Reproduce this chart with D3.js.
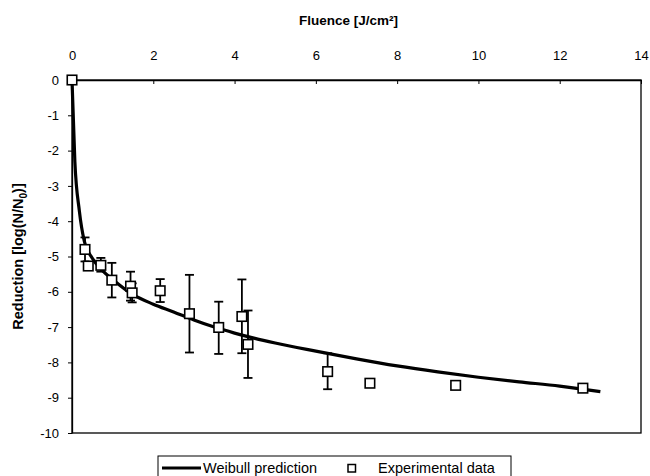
<!DOCTYPE html>
<html>
<head>
<meta charset="utf-8">
<script src="https://cdn.jsdelivr.net/npm/d3@7"></script>
<style>
  html, body { margin: 0; padding: 0; background: #fff; }
  svg { display: block; }
  text { font-family: "Liberation Sans", Arial, sans-serif; fill: #000; }
</style>
</head>
<body>
<svg id="chart" width="650" height="476"></svg>
<script>
// ---- Data ----
const fluence   = [0, 0.32, 0.40, 0.71, 0.98, 1.44, 1.48, 2.17, 2.89, 3.61, 4.18, 4.33, 6.29, 7.33, 9.44, 12.57];
const reduction = [0, -4.80, -5.27, -5.25, -5.67, -5.84, -6.03, -5.97, -6.62, -7.01, -6.70, -7.49, -8.26, -8.59, -8.65, -8.73];
const errHigh   = [null, -4.46, null, -5.04, -5.18, -5.43, -5.76, -5.64, -5.52, -6.28, -5.65, -6.53, -7.74, null, null, null];
const errLow    = [null, -5.14, null, -5.43, -6.16, -6.25, -6.30, -6.29, -7.72, -7.76, -7.74, -8.44, -8.76, null, null, null];

const weibullX = [0, 0.07, 0.18, 0.3, 0.5, 0.75, 1.0, 1.5, 2.0, 2.5, 3.0, 3.5, 4.0, 4.5, 5.0, 6.0, 7.0, 8.0, 9.0, 10.0, 11.0, 12.0, 13.0];
const weibullY = [0, -2.3, -3.7, -4.55, -5.05, -5.4, -5.65, -6.08, -6.35, -6.57, -6.8, -7.0, -7.17, -7.32, -7.45, -7.68, -7.9, -8.1, -8.27, -8.42, -8.55, -8.67, -8.83];

const xTicks = [0, 2, 4, 6, 8, 10, 12, 14];
const yTicks = [0, -1, -2, -3, -4, -5, -6, -7, -8, -9, -10];

const xTitle = "Fluence [J/cm²]";
const legendLabels = ["Weibull prediction", "Experimental data"];

// ---- Layout ----
const L = 72, R = 641, T = 80, B = 433;
const svg = d3.select("#chart");
const x = d3.scaleLinear().domain([0, 14]).range([L, R]);
const y = d3.scaleLinear().domain([0, -10]).range([T, B]);

// Plot frame
svg.append("rect")
  .attr("x", L).attr("y", T).attr("width", R - L).attr("height", B - T)
  .attr("fill", "none").attr("stroke", "#000").attr("stroke-width", 1.3);

// Top x axis
const gx = svg.append("g").attr("transform", `translate(0,${T})`)
  .call(d3.axisTop(x).tickValues(xTicks).tickSizeInner(-4).tickSizeOuter(0).tickPadding(20).tickFormat(d3.format("d")));
gx.select(".domain").attr("stroke", "#000").attr("stroke-width", 1.3);
gx.selectAll(".tick line").attr("stroke", "#000").attr("stroke-width", 1);
gx.selectAll(".tick text").attr("font-size", 13).attr("font-family", "Liberation Sans, Arial, sans-serif").attr("fill", "#000");

// Left y axis
const gy = svg.append("g").attr("transform", `translate(${L},0)`)
  .call(d3.axisLeft(y).tickValues(yTicks).tickSizeInner(4).tickSizeOuter(0).tickPadding(9).tickFormat(d => d3.format("d")(d).replace("−", "-")));
gy.select(".domain").attr("stroke", "#000").attr("stroke-width", 1.3);
gy.selectAll(".tick line").attr("stroke", "#000").attr("stroke-width", 1);
gy.selectAll(".tick text").attr("font-size", 13).attr("font-family", "Liberation Sans, Arial, sans-serif").attr("fill", "#000");

// Axis titles
svg.append("text")
  .attr("x", (L + R) / 2 - 8).attr("y", 25)
  .attr("text-anchor", "middle").attr("font-size", 13.5).attr("font-weight", "bold")
  .text(xTitle);

const yt = svg.append("text")
  .attr("transform", `translate(23,${(T + B) / 2}) rotate(-90)`)
  .attr("text-anchor", "middle").attr("font-size", 14.5).attr("font-weight", "bold");
yt.append("tspan").text("Reduction [log(N/N");
yt.append("tspan").attr("font-size", 10).attr("dy", 4).text("0");
yt.append("tspan").attr("dy", -4).text(")]");

// Data table
const pts = fluence.map((f, i) => ({ x: f, y: reduction[i], hi: errHigh[i], lo: errLow[i] }));
const curve = weibullX.map((v, i) => ({ x: v, y: weibullY[i] }));

// Error bars
const cap = 4.5;
const eb = svg.append("g").attr("stroke", "#000").attr("stroke-width", 1.8).attr("fill", "none");
pts.filter(d => d.hi !== null && d.lo !== null).forEach(d => {
  const cx = x(d.x);
  eb.append("line").attr("x1", cx).attr("x2", cx).attr("y1", y(d.hi)).attr("y2", y(d.lo));
  eb.append("line").attr("x1", cx - cap).attr("x2", cx + cap).attr("y1", y(d.hi)).attr("y2", y(d.hi));
  eb.append("line").attr("x1", cx - cap).attr("x2", cx + cap).attr("y1", y(d.lo)).attr("y2", y(d.lo));
});

// Weibull curve
svg.append("path")
  .datum(curve)
  .attr("fill", "none").attr("stroke", "#000").attr("stroke-width", 3.2)
  .attr("stroke-linejoin", "round")
  .attr("d", d3.line().x(d => x(d.x)).y(d => y(d.y)).curve(d3.curveMonotoneX));

// Markers
const ms = 9.5;
svg.append("g").selectAll("rect").data(pts).join("rect")
  .attr("x", d => x(d.x) - ms / 2).attr("y", d => y(d.y) - ms / 2)
  .attr("width", ms).attr("height", ms)
  .attr("fill", "#fff").attr("stroke", "#000").attr("stroke-width", 1.6);

// Legend
const lg = svg.append("g");
lg.append("rect").attr("x", 158).attr("y", 456).attr("width", 353).attr("height", 26)
  .attr("fill", "#fff").attr("stroke", "#000").attr("stroke-width", 1);
lg.append("line").attr("x1", 162).attr("x2", 201).attr("y1", 468).attr("y2", 468)
  .attr("stroke", "#000").attr("stroke-width", 3);
lg.append("text").attr("x", 203).attr("y", 473).attr("font-size", 14.5).text(legendLabels[0]);
lg.append("rect").attr("x", 348).attr("y", 464.5).attr("width", 7.5).attr("height", 7.5)
  .attr("fill", "#fff").attr("stroke", "#000").attr("stroke-width", 1.5);
lg.append("text").attr("x", 378).attr("y", 473).attr("font-size", 14.5).text(legendLabels[1]);
</script>
</body>
</html>
